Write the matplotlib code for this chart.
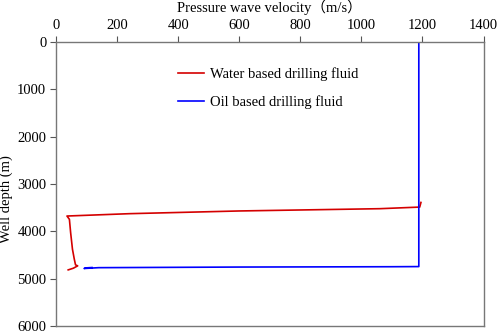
import matplotlib
matplotlib.use("Agg")
import matplotlib.pyplot as plt

plt.rcParams['font.family'] = ['Liberation Serif', 'Noto Sans CJK SC']

# water based drilling fluid: velocity (m/s), depth (m)
water_v = [1195, 1191, 1060, 600, 242, 36, 44, 48, 54, 60, 64, 71, 57, 40]
water_d = [3390, 3488, 3522, 3570, 3627, 3677, 3747, 4028, 4379, 4589, 4709, 4730, 4779, 4815]

# oil based drilling fluid
oil_v = [1188, 1188, 1100, 600, 140, 92, 100, 118]
oil_d = [0, 4745, 4748, 4755, 4768, 4785, 4772, 4765]

xticks = [0, 200, 400, 600, 800, 1000, 1200, 1400]
yticks = [0, 1000, 2000, 3000, 4000, 5000, 6000]

fig = plt.figure(figsize=(4.98, 3.34), dpi=100)
ax = fig.add_axes([0.1124, 0.024, 0.8586, 0.8503])

ax.plot(water_v, water_d, color='#d40000', lw=1.2, label='Water based drilling fluid')
ax.plot(oil_v, oil_d, color='#0000ff', lw=1.2, label='Oil based drilling fluid')

ax.set_xlim(0, 1400)
ax.set_ylim(6000, 0)
ax.set_xticks(xticks)
ax.set_yticks(yticks)
ax.xaxis.tick_top()
ax.xaxis.set_label_position('top')
ax.set_xlabel('Pressure wave velocity（m/s）', fontsize=10.5, labelpad=5)
ax.set_ylabel('Well depth (m)', fontsize=10.5)
ax.yaxis.set_label_coords(-0.1, 0.447)
ax.tick_params(labelsize=10.5, length=4, width=0.8, color='#555555', pad=3)
for s in ax.spines.values():
    s.set_color('#777777')
    s.set_linewidth(1.0)

ax.legend(loc='center', bbox_to_anchor=(0.496, 0.838), frameon=False,
          fontsize=10.5, handlelength=1.8, handletextpad=0.4, labelspacing=1.0)

fig.savefig('out.png', dpi=100)
